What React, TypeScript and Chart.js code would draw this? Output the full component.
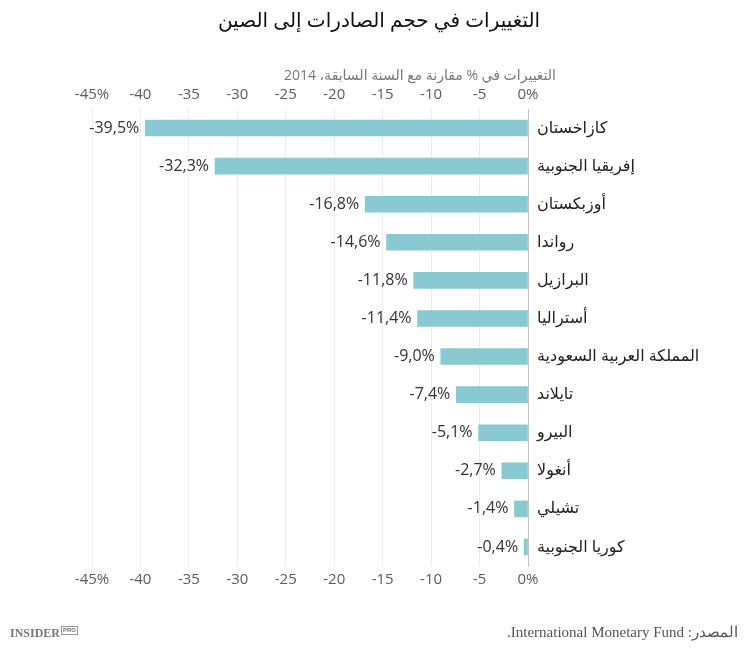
import React, { useEffect, useRef } from "react";
import { Chart, registerables } from "chart.js";

Chart.register(...registerables);

const title = "التغييرات في حجم الصادرات إلى الصين";
const subtitle = "التغييرات في % مقارنة مع السنة السابقة، 2014";
const source = "المصدر: International Monetary Fund.";

const categories = [
  "كازاخستان",
  "إفريقيا الجنوبية",
  "أوزبكستان",
  "رواندا",
  "البرازيل",
  "أستراليا",
  "المملكة العربية السعودية",
  "تايلاند",
  "البيرو",
  "أنغولا",
  "تشيلي",
  "كوريا الجنوبية",
];
const values = [-39.5, -32.3, -16.8, -14.6, -11.8, -11.4, -9.0, -7.4, -5.1, -2.7, -1.4, -0.4];
const axisMin = -45;
const axisMax = 0;
const axisStep = 5;

const FONT = "'Open Sans', 'DejaVu Sans', sans-serif";

const fmtTick = (v: number) => (v === axisMin || v === axisMax ? `${v}%` : `${v}`);
const fmtValue = (v: number) => `${v.toFixed(1).replace(".", ",")}%`;

const valueLabelPlugin = {
  id: "valueLabels",
  afterDatasetsDraw(chart: any) {
    const ctx = chart.ctx;
    const meta = chart.getDatasetMeta(0);
    ctx.save();
    ctx.font = `16px ${FONT}`;
    ctx.fillStyle = "#333333";
    ctx.textAlign = "right";
    ctx.textBaseline = "middle";
    meta.data.forEach((bar: any, i: number) => {
      ctx.fillText(fmtValue(values[i]), bar.x - 6, bar.y);
    });
    ctx.restore();
  },
};

export default function App() {
  const ref = useRef<HTMLCanvasElement | null>(null);

  useEffect(() => {
    if (!ref.current) return;
    const tickOpts = {
      stepSize: axisStep,
      color: "#5c5c5c",
      font: { size: 15, family: FONT },
      padding: 5,
      callback: (v: any) => fmtTick(Number(v)),
    };
    const chart = new Chart(ref.current, {
      type: "bar",
      data: {
        labels: categories,
        datasets: [
          {
            data: values,
            backgroundColor: "#89c9d2",
            borderWidth: 0,
            barThickness: 16,
          },
        ],
      },
      plugins: [valueLabelPlugin],
      options: {
        indexAxis: "y",
        responsive: true,
        maintainAspectRatio: false,
        animation: false,
        layout: { padding: { left: 92, right: 0, top: 79, bottom: 55 } },
        plugins: {
          legend: { display: false },
          tooltip: { enabled: false },
          title: { display: false },
        },
        scales: {
          x: {
            type: "linear",
            position: "bottom",
            min: axisMin,
            max: axisMax,
            grid: { color: "#ececec", drawTicks: false, lineWidth: 1 },
            border: { display: false },
            ticks: tickOpts as any,
            afterFit: (s: any) => {
              s.height = 30;
            },
          },
          x2: {
            type: "linear",
            position: "top",
            min: axisMin,
            max: axisMax,
            grid: { display: false, drawTicks: false },
            border: { display: false },
            ticks: tickOpts as any,
            afterFit: (s: any) => {
              s.height = 30;
            },
          },
          y: {
            position: "right",
            grid: { display: false, drawTicks: false },
            border: { display: true, color: "#c4c4c4", width: 1 },
            ticks: {
              crossAlign: "near",
              padding: 9,
              color: "#222222",
              font: { size: 16, family: FONT },
            },
            afterFit: (s: any) => {
              s.width = 222;
            },
          },
        },
      } as any,
    });
    return () => chart.destroy();
  }, []);

  return (
    <div
      style={{
        position: "absolute",
        left: 0,
        top: 0,
        width: 750,
        height: 651,
        background: "#ffffff",
        fontFamily: FONT,
      }}
    >
      <canvas ref={ref} style={{ position: "absolute", left: 0, top: 0, width: 750, height: 651 }} />
      <div
        dir="rtl"
        style={{
          position: "absolute",
          top: 5,
          left: 0,
          width: 758,
          textAlign: "center",
          fontSize: 20,
          color: "#111111",
          lineHeight: "30px",
        }}
      >
        {title}
      </div>
      <div
        dir="rtl"
        style={{
          position: "absolute",
          top: 64,
          left: 200,
          width: 356,
          textAlign: "right",
          fontSize: 14,
          color: "#777777",
          lineHeight: "22px",
        }}
      >
        {subtitle}
      </div>
      <div
        dir="rtl"
        style={{
          position: "absolute",
          top: 621,
          right: 12,
          fontFamily: "'Liberation Serif', 'DejaVu Serif', serif",
          fontSize: 15,
          color: "#555555",
          lineHeight: "22px",
        }}
      >
        {source}
      </div>
      <div
        style={{
          position: "absolute",
          top: 624,
          left: 10,
          fontFamily: "'Liberation Serif', 'DejaVu Serif', serif",
          fontWeight: 700,
          fontSize: 12,
          color: "#777777",
          lineHeight: "18px",
          display: "flex",
          alignItems: "flex-start",
        }}
      >
        <span>INSIDER</span>
        <span
          style={{
            fontSize: 6,
            lineHeight: "7px",
            border: "1px solid #999",
            padding: "0 1px",
            marginLeft: 1,
            marginTop: 2,
            fontFamily: "'Liberation Sans', sans-serif",
          }}
        >
          PRO
        </span>
      </div>
    </div>
  );
}
